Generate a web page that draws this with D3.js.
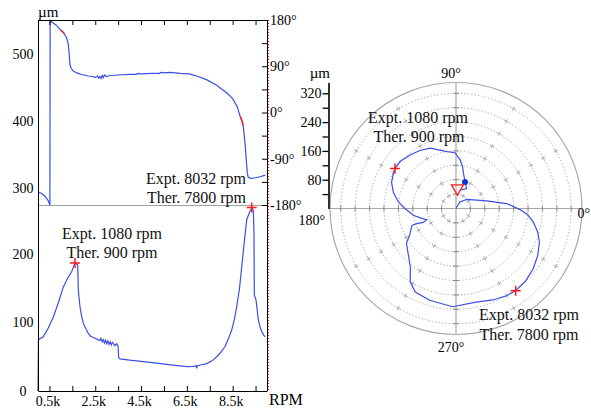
<!DOCTYPE html>
<html><head><meta charset="utf-8">
<script src="https://cdn.jsdelivr.net/npm/d3@7"></script>
<style>
body{margin:0;background:#fff;}
svg{display:block;font-family:"Liberation Serif","Times New Roman",serif;}
</style></head>
<body><svg id="c" width="591" height="410"></svg>
<script>
// ---------------- data ----------------
// Bode: phase (deg) vs rotor speed (rpm)
const phaseRpm = [0,150,300,450,520,530,600,800,1000,1050,1100,1150,1250,1320,1360,1397,1450,1550,1700,1900,2200,2400,2500,2600,2650,2700,2750,2800,2850,2900,3000,3150,3500,4000,4300,4350,4500,5000,5300,5350,5500,5800,6200,6600,7000,7400,7800,8250,8500,8700,8830,8900,8960,9000,9050,9100,9140,9180,9300,9500,9700,9930];
const phaseDeg = [-155,-157,-163,-172,-180,179,176,170,160,158,156,153,145,133,115,93,86,80,77,74,71,70,68,71,67,70,66,72,68,73,70,72,73,74,74,76,75,76,76,78,77,78,76,75,70,63,53,38,27,11,-8,-15,-25,-42,-65,-95,-118,-126,-128,-127,-125,-122];
const phaseRedRanges = [[1000,1150],[8830,8960]];
// Bode: amplitude (um) vs rotor speed (rpm)
const ampRpm = [0,20,230,450,670,900,1105,1300,1470,1616,1700,1734,1750,1760,1834,1900,1978,2100,2197,2300,2415,2500,2600,2707,2750,2800,2850,2900,2950,3000,3050,3100,3150,3200,3250,3300,3350,3437,3500,3520,3537,3581,4000,4598,5000,5620,6000,6493,6800,6900,6930,6960,7100,7367,7600,7803,8000,8166,8300,8459,8577,8677,8800,8895,9000,9114,9250,9332,9402,9420,9432,9440,9445,9470,9520,9620,9700,9769,9850,9913];
const ampUm = [0,75,79,92,108,130,152,165,174,187,185,184,165,147,123,110,99,90,84,80,78,77,75,74,77,72,75,70,74,69,73,68,72,67,71,69,66,69,65,50,48,47,45,43,41.5,39,37.5,35.5,36,37,33,37,38,40,44,50,57,65,75,89,105,123,150,181,215,250,262,267,264,245,230,180,140,138,133,104,93,87,82,79];
// Resonance markers: [rpm, um]
const bodePeaks = [[1616,187],[9332,268]];
// Polar plot (amplitude um, phase deg)
const polarAmp = [0,21,39,88,141,178,200,218,236,250,262,272,279,282,280,274,266,273,265,258,240,206,180,168,149,131,117,99,87,99,120,142,161,179,193,199,203,203,196,190,182,160,155,135,117,100,78,63,52];
const polarPhase = [0,59,40,14,5.6,359,355,350,344,338,330,322,314,306,300,292,282,268,254,244,238,232,222,215,210,201,201,203,201,196,189,180,173.5,166,158,151,146.7,140,131,122,113,99,91,85,81,78,71,62,78];
const polarPeaks = [[203,146.7],[282,306]];
const polarTriangle = [56,86];
const polarDot = [78,71.3];
// Tick labels
const rpmTicks = [500,1500,2500,3500,4500,5500,6500,7500,8500,9500];
const rpmLabelTicks = [500,2500,4500,6500,8500];
const topAmpTicks = [300,400,500];
const botAmpTicks = [0,100,200];
const degTicks = [-180,-135,-90,-45,0,45,90,135,180];
const degLabelTicks = [-180,-90,0,90,180];
const ringValues = [40,80,120,160,200,240,280,320];
const radialLabelTicks = [80,160,240,320];

// ---------------- drawing ----------------
const svg = d3.select("#c");
svg.append("rect").attr("width",591).attr("height",410).attr("fill","#fff");
const BLUE = "#3c4fe3", RED = "#ff1a1a";
const FONT = 14;

// Left (Bode) chart
const L = 38, R = 267, T = 20, MID = 205, B = 391;
const x = d3.scaleLinear().domain([0,10000]).range([L,R]);
const yPhase = d3.scaleLinear().domain([-180,180]).range([MID,T]);
const yTopAmp = d3.scaleLinear().domain([275,551]).range([MID,T]);
const yAmp = d3.scaleLinear().domain([0,271.5]).range([B,MID]);

const phaseData = phaseRpm.map((r,i)=>({r, v:phaseDeg[i]}));
const ampData = ampRpm.map((r,i)=>({r, v:ampUm[i]}));

// divider
svg.append("line").attr("x1",L).attr("x2",R).attr("y1",MID+0.5).attr("y2",MID+0.5)
  .attr("stroke","#a0a0a0").attr("stroke-width",1);

// curves
const phaseLine = d3.line().x(d=>x(d.r)).y(d=>yPhase(d.v));
svg.append("path").datum(phaseData).attr("d",phaseLine).attr("fill","none")
  .attr("stroke",BLUE).attr("stroke-width",1.2);
phaseRedRanges.forEach(([a,b])=>{
  svg.append("path").datum(phaseData.filter(d=>d.r>=a&&d.r<=b)).attr("d",phaseLine)
    .attr("fill","none").attr("stroke",RED).attr("stroke-width",1.4);
});
const ampLine = d3.line().x(d=>x(d.r)).y(d=>yAmp(d.v));
svg.append("path").datum(ampData).attr("d",ampLine).attr("fill","none")
  .attr("stroke",BLUE).attr("stroke-width",1.2);

const plus = "M-5,0H5M0,-5V5";
svg.selectAll(".bpk").data(bodePeaks).join("path").attr("class","bpk")
  .attr("transform",d=>`translate(${x(d[0])},${yAmp(d[1])})`)
  .attr("d",plus).attr("stroke",RED).attr("stroke-width",1.5).attr("fill","none");

// right red dotted reference line
svg.append("line").attr("x1",R+1.5).attr("x2",R+1.5).attr("y1",T).attr("y2",B)
  .attr("stroke",RED).attr("stroke-width",1).attr("stroke-dasharray","1,2");

// axes
function styleAxis(g){
  g.selectAll("path,line").attr("stroke","#000");
  g.selectAll("text").attr("font-size",FONT).attr("fill","#000")
   .attr("font-family","Liberation Serif, serif");
}
// top border with ticks
svg.append("g").attr("transform",`translate(0,${T})`)
  .call(d3.axisTop(x).tickValues(rpmTicks).tickSizeInner(-5).tickSizeOuter(0).tickFormat(""))
  .call(styleAxis);
// bottom axis
svg.append("g").attr("transform",`translate(0,${B})`)
  .call(d3.axisBottom(x).tickValues(rpmTicks).tickSizeInner(-5).tickSizeOuter(0).tickPadding(5)
    .tickFormat(d=>rpmLabelTicks.includes(d)?(d/1000)+"k":""))
  .call(styleAxis)
  .call(g=>g.selectAll("text").attr("dx",-2));
// left axes
const leftTop = svg.append("g").attr("transform",`translate(${L},0)`)
  .call(d3.axisLeft(yTopAmp).tickValues(topAmpTicks).tickSize(0).tickPadding(0))
  .call(styleAxis);
leftTop.select(".domain").remove();
const leftBot = svg.append("g").attr("transform",`translate(${L},0)`)
  .call(d3.axisLeft(yAmp).tickValues(botAmpTicks).tickSize(0).tickPadding(0))
  .call(styleAxis);
leftBot.select(".domain").remove();
[leftTop,leftBot].forEach(g=>g.selectAll("text").attr("text-anchor","middle").attr("x",-15));
svg.append("line").attr("x1",L+0.5).attr("x2",L+0.5).attr("y1",T).attr("y2",B).attr("stroke","#000");
// right phase axis
const rightAx = svg.append("g").attr("transform",`translate(${R},0)`)
  .call(d3.axisRight(yPhase).tickValues(degTicks).tickSizeInner(-5).tickSizeOuter(0).tickPadding(3)
    .tickFormat(d=>degLabelTicks.includes(d)?d+"°":""))
  .call(styleAxis);
svg.append("line").attr("x1",R+0.5).attr("x2",R+0.5).attr("y1",T).attr("y2",B).attr("stroke","#000");

// labels
svg.append("text").attr("x",L).attr("y",17).attr("font-size",15).text("µm");
svg.append("text").attr("x",269).attr("y",405).attr("font-size",16).text("RPM");
const ann = (tx,ty,anchor,s)=>svg.append("text").attr("x",tx).attr("y",ty)
  .attr("text-anchor",anchor).attr("font-size",16).attr("fill","#111").text(s);
ann(246,184,"end","Expt. 8032 rpm");
ann(246,203,"end","Ther. 7800 rpm");
ann(112,239,"middle","Expt. 1080 rpm");
ann(112,258,"middle","Ther. 900 rpm");

// ---------------- Polar chart ----------------
const cx = 456, cy = 208.5, RMAX = 350, RPX = 126;
const rs = d3.scaleLinear().domain([0,RMAX]).range([0,RPX]);
const pg = svg.append("g").attr("transform",`translate(${cx},${cy})`);
// rings
pg.selectAll(".ring").data(ringValues).join("circle").attr("class","ring")
  .attr("r",d=>rs(d)).attr("fill","none").attr("stroke","#8a8a8a")
  .attr("stroke-width",0.8).attr("stroke-dasharray","1.2,2.2");
pg.append("circle").attr("r",rs(RMAX)).attr("fill","none").attr("stroke","#a8a8a8").attr("stroke-width",1.2);
// cross marks on rings at 30deg spokes
const spokeAngles = [30,60,120,150,210,240,300,330];
const crosses = [];
ringValues.forEach(v=>spokeAngles.forEach(a=>crosses.push([v,a])));
pg.selectAll(".cr").data(crosses).join("path").attr("class","cr")
  .attr("transform",d=>{const a=d[1]*Math.PI/180;return `translate(${rs(d[0])*Math.cos(a)},${-rs(d[0])*Math.sin(a)}) rotate(${-d[1]})`;})
  .attr("d","M-2.5,0H2.5M0,-2.5V2.5").attr("stroke","#9a9a9a").attr("stroke-width",0.7);
// axis lines
pg.append("line").attr("x1",-RPX).attr("x2",RPX).attr("y1",0).attr("y2",0).attr("stroke","#a8a8a8").attr("stroke-width",1.2);
pg.append("line").attr("y1",-RPX).attr("y2",RPX).attr("x1",0).attr("x2",0).attr("stroke","#a8a8a8").attr("stroke-width",1.2);
// ticks on the axes at each ring
const axTicks=[];
ringValues.forEach(v=>{axTicks.push([rs(v),0,"v"]);axTicks.push([-rs(v),0,"v"]);axTicks.push([0,rs(v),"h"]);axTicks.push([0,-rs(v),"h"]);});
pg.selectAll(".at").data(axTicks).join("path").attr("class","at")
  .attr("transform",d=>`translate(${d[0]},${d[1]})`)
  .attr("d",d=>d[2]==="v"?"M0,-3V3":"M-3,0H3").attr("stroke","#777").attr("stroke-width",0.8);

// polar curve
const polarData = polarAmp.map((a,i)=>({a, th:polarPhase[i]}));
const radial = d3.lineRadial().angle(d=>Math.PI/2 - d.th*Math.PI/180).radius(d=>rs(d.a));
pg.append("path").datum(polarData).attr("d",radial).attr("fill","none")
  .attr("stroke",BLUE).attr("stroke-width",1.2);
const pxy = (a,th)=>[rs(a)*Math.cos(th*Math.PI/180), -rs(a)*Math.sin(th*Math.PI/180)];
pg.selectAll(".ppk").data(polarPeaks).join("path").attr("class","ppk")
  .attr("transform",d=>`translate(${pxy(d[0],d[1])})`)
  .attr("d",plus).attr("stroke",RED).attr("stroke-width",1.5);
pg.append("circle").attr("transform",`translate(${pxy(polarDot[0],polarDot[1])})`).attr("r",3).attr("fill","#1530e0");
pg.append("path").attr("transform",`translate(${pxy(polarTriangle[0],polarTriangle[1])}) rotate(180)`)
  .attr("d",d3.symbol(d3.symbolTriangle,62)()).attr("fill","none").attr("stroke",RED).attr("stroke-width",1.3);

// radial axis
const yr = d3.scaleLinear().domain([0,RMAX]).range([cy,cy-RPX]);
const rax = svg.append("g").attr("transform",`translate(328.5,0)`)
  .call(d3.axisLeft(yr).tickValues(ringValues).tickSizeInner(6).tickSizeOuter(0).tickPadding(1)
    .tickFormat(d=>radialLabelTicks.includes(d)?d:""))
  .call(styleAxis);
rax.select(".domain").attr("stroke-width",1.6);
rax.selectAll("line").attr("stroke-width",1.3);
svg.append("text").attr("x",330).attr("y",78).attr("text-anchor","end").attr("font-size",15).text("µm");

// angle labels
const alab = (tx,ty,anchor,s)=>svg.append("text").attr("x",tx).attr("y",ty).attr("text-anchor",anchor).attr("font-size",FONT).text(s);
alab(451,78,"middle","90°");
alab(451,352,"middle","270°");
alab(325,225,"end","180°");
alab(590,218,"end","0°");

ann(418,123,"middle","Expt. 1080 rpm");
ann(419,142,"middle","Ther. 900 rpm");
ann(529,320,"middle","Expt. 8032 rpm");
ann(529,340,"middle","Ther. 7800 rpm");
</script></body></html>
